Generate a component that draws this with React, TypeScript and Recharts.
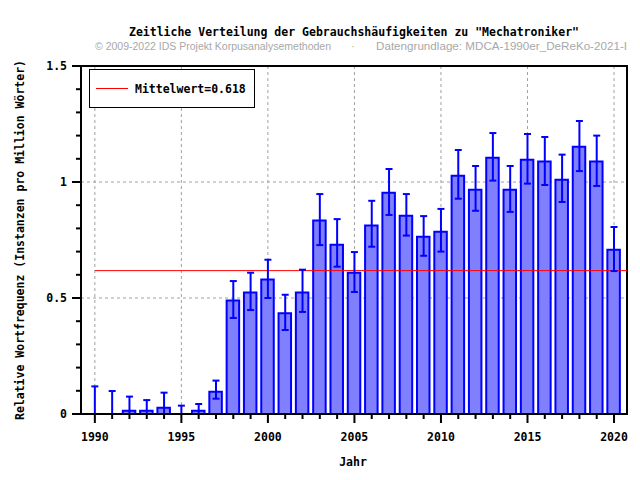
import React from 'react';
import {
  ComposedChart,
  Bar,
  Scatter,
  ErrorBar,
  XAxis,
  YAxis,
  CartesianGrid,
  ReferenceLine,
  ReferenceArea,
} from 'recharts';

const years = [
  1990, 1991, 1992, 1993, 1994, 1995, 1996, 1997, 1998, 1999, 2000, 2001, 2002, 2003, 2004, 2005,
  2006, 2007, 2008, 2009, 2010, 2011, 2012, 2013, 2014, 2015, 2016, 2017, 2018, 2019, 2020,
];
const freq = [
  0, 0, 0.014, 0.014, 0.027, 0, 0.014, 0.096, 0.489, 0.524, 0.58, 0.434, 0.524, 0.834, 0.73, 0.609,
  0.812, 0.954, 0.855, 0.764, 0.786, 1.027, 0.967, 1.105, 0.967, 1.096, 1.088, 1.01, 1.152, 1.088, 0.708,
];
const upper = [
  0.119, 0.099, 0.075, 0.06, 0.092, 0.036, 0.043, 0.144, 0.573, 0.609, 0.665, 0.514, 0.622, 0.948, 0.84,
  0.698, 0.919, 1.056, 0.948, 0.853, 0.884, 1.138, 1.069, 1.211, 1.069, 1.207, 1.194, 1.118, 1.263, 1.2,
  0.806,
];
const lower = [
  0, 0, 0, 0, 0, 0, 0, 0.066, 0.414, 0.448, 0.5, 0.362, 0.44, 0.728, 0.635, 0.526, 0.721, 0.858, 0.769,
  0.682, 0.7, 0.928, 0.876, 1.006, 0.871, 0.993, 0.987, 0.914, 1.047, 0.983, 0.616,
];
const MEAN = 0.618;
const xGridYears = [1990, 1995, 2000, 2005, 2010, 2015, 2020];
const yTicks = [0, 0.1, 0.2, 0.3, 0.4, 0.5, 0.6, 0.7, 0.8, 0.9, 1, 1.1, 1.2, 1.3, 1.4, 1.5];
const yGridValues = [0.5, 1];
const X_DOMAIN: [number, number] = [1989.2, 2020.75];
const Y_DOMAIN: [number, number] = [0, 1.5];

const title = 'Zeitliche Verteilung der Gebrauchshäufigkeiten zu "Mechatroniker"';
const subLeft = '© 2009-2022 IDS Projekt Korpusanalysemethoden';
const subRight = 'Datengrundlage: MDCA-1990er_DeReKo-2021-I';
const yLabel = 'Relative Wortfrequenz (Instanzen pro Million Wörter)';
const xLabel = 'Jahr';
const legendLabel = 'Mittelwert=0.618';

const data = years.map((year, i) => ({
  year,
  value: freq[i],
  err: [freq[i] - lower[i], upper[i] - freq[i]],
}));

const MONO = "'DejaVu Sans Mono', monospace";
const SANS = "'Liberation Sans', Arial, sans-serif";

const XTick = (props: any) => {
  const { x, y, payload } = props;
  const v = payload.value;
  const major = v % 5 === 0;
  const len = major ? 9 : 5;
  return (
    <g>
      <rect x={x - 1} y={y} width={2} height={len} fill="#000" />
      {major && (
        <text x={x} y={y + 27} textAnchor="middle" fontFamily={MONO} fontWeight="bold" fontSize={11.5} fill="#000">
          {v}
        </text>
      )}
    </g>
  );
};

const YTick = (props: any) => {
  const { x, y, payload } = props;
  const v = payload.value;
  const major = Math.abs(v * 2 - Math.round(v * 2)) < 1e-6;
  const len = major ? 9 : 5;
  return (
    <g>
      <rect x={x - len} y={y - 1} width={len} height={2} fill="#000" />
      {major && (
        <text x={x - 14} y={y + 4} textAnchor="end" fontFamily={MONO} fontWeight="bold" fontSize={11.5} fill="#000">
          {String(Math.round(v * 10) / 10)}
        </text>
      )}
    </g>
  );
};

const NoShape = () => <g />;

export default function App() {
  return (
    <div style={{ position: 'absolute', left: 0, top: 0, width: 640, height: 480, background: '#fff' }}>
      <ComposedChart
        width={640}
        height={480}
        data={data}
        margin={{ top: 66, right: 13, bottom: 0, left: 0 }}
      >
        <XAxis xAxisId="grid" type="number" dataKey="year" domain={X_DOMAIN} ticks={xGridYears} hide allowDataOverflow />
        <YAxis yAxisId="grid" type="number" domain={Y_DOMAIN} ticks={yGridValues} hide allowDataOverflow />
        <CartesianGrid xAxisId="grid" yAxisId="grid" stroke="#a0a0a0" strokeDasharray="3 3" />
        <XAxis
          dataKey="year"
          type="number"
          domain={X_DOMAIN}
          ticks={years}
          interval={0}
          height={66}
          tickSize={0}
          tickMargin={0}
          tickLine={false}
          axisLine={{ stroke: '#000', strokeWidth: 2 }}
          tick={<XTick />}
          allowDataOverflow
        />
        <YAxis
          type="number"
          domain={Y_DOMAIN}
          ticks={yTicks}
          interval={0}
          width={81}
          tickSize={0}
          tickMargin={0}
          tickLine={false}
          axisLine={{ stroke: '#000', strokeWidth: 2 }}
          tick={<YTick />}
          allowDataOverflow
        />
        <ReferenceLine
          segment={[
            { x: 1990, y: MEAN },
            { x: X_DOMAIN[1], y: MEAN },
          ]}
          stroke="#ff0000"
          strokeWidth={1}
        />
        <Bar dataKey="value" barSize={12.5} fill="#8080ff" stroke="#0000ff" strokeWidth={2} isAnimationActive={false} />
        <Scatter dataKey="value" shape={<NoShape />} isAnimationActive={false}>
          <ErrorBar dataKey="err" direction="y" width={3.5} stroke="#0000ff" strokeWidth={2} />
        </Scatter>
        <ReferenceArea
          x1={X_DOMAIN[0]}
          x2={X_DOMAIN[1]}
          y1={Y_DOMAIN[0]}
          y2={Y_DOMAIN[1]}
          fill="none"
          fillOpacity={0}
          stroke="#000"
          strokeWidth={2}
        />
      </ComposedChart>
      <svg
        width={640}
        height={480}
        style={{ position: 'absolute', left: 0, top: 0, pointerEvents: 'none' }}
      >
        <text x={354} y={36} textAnchor="middle" fontFamily={MONO} fontWeight="bold" fontSize={11.5} fill="#000">
          {title}
        </text>
        <text x={95} y={50} fontFamily={SANS} fontSize={11} fill="#a8a8a8" textLength={236} lengthAdjust="spacingAndGlyphs">
          {subLeft}
        </text>
        <text x={353} y={50} textAnchor="middle" fontFamily={SANS} fontSize={11} fill="#a8a8a8">
          ·
        </text>
        <text x={376} y={50} fontFamily={SANS} fontSize={11} fill="#a8a8a8" textLength={251} lengthAdjust="spacingAndGlyphs">
          {subRight}
        </text>
        <text
          x={0}
          y={0}
          transform="translate(24,240) rotate(-90)"
          textAnchor="middle"
          fontFamily={MONO}
          fontWeight="bold"
          fontSize={11.5}
          fill="#000"
        >
          {yLabel}
        </text>
        <text x={353} y={466} textAnchor="middle" fontFamily={MONO} fontWeight="bold" fontSize={11.5} fill="#000">
          {xLabel}
        </text>
        <rect x={89.5} y={69.5} width={165} height={38} fill="#fff" stroke="#000" strokeWidth={1} />
        <line x1={96} x2={128} y1={88.5} y2={88.5} stroke="#ff0000" strokeWidth={1} />
        <text x={135} y={92.5} fontFamily={MONO} fontWeight="bold" fontSize={11.5} fill="#000">
          {legendLabel}
        </text>
      </svg>
    </div>
  );
}
